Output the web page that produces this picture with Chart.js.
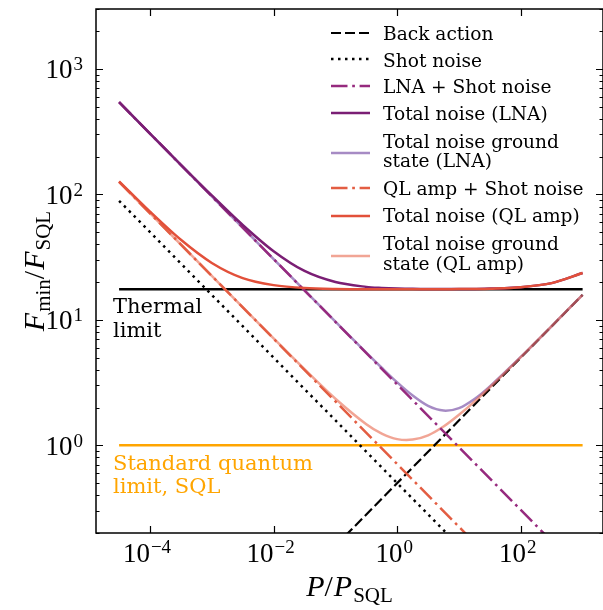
<!DOCTYPE html>
<html>
<head>
<meta charset="utf-8">
<script src="https://cdn.jsdelivr.net/npm/chart.js@4.4.1/dist/chart.umd.min.js"></script>
<style>
  html, body { margin: 0; padding: 0; background: #fff; }
  #wrap { width: 603px; height: 610px; }
</style>
</head>
<body>
<div id="wrap"><canvas id="noiseChart" width="603" height="610"></canvas></div>
<script>
// P / P_SQL grid shared by the curved series
const powerRatio = [3.16e-5, 1e-4, 3.16e-4, 1e-3, 3.16e-3, 0.01, 0.0316, 0.1, 0.316, 0.562, 1, 1.78, 3.16, 5.62, 10, 17.8, 31.6, 100, 316, 1000];
const totalNoiseLNA = [543, 305, 172, 98.0, 57.0, 35.2, 24.5, 20.0, 18.3, 17.96, 17.76, 17.65, 17.60, 17.58, 17.59, 17.63, 17.73, 18.2, 19.6, 23.6];
const groundStateLNA = [542, 305, 171.5, 96.4, 54.2, 30.5, 17.2, 9.67, 5.48, 4.15, 3.17, 2.49, 2.06, 1.89, 1.98, 2.34, 2.95, 5.06, 8.92, 15.8];
const totalNoiseQL = [127, 72.8, 43.4, 28.4, 21.5, 18.9, 17.9, 17.6, 17.54, 17.52, 17.51, 17.51, 17.52, 17.54, 17.57, 17.62, 17.72, 18.2, 19.6, 23.6];
const groundStateQL = [125.7, 70.7, 39.8, 22.4, 12.6, 7.11, 4.04, 2.35, 1.47, 1.24, 1.12, 1.11, 1.20, 1.41, 1.75, 2.23, 2.90, 5.05, 8.92, 15.8];

// straight (power law) lines, end points only
const backActionP = [0.1, 1000];
const backActionF = [0.158, 15.8];
const shotNoiseP = [3.16e-5, 10];
const shotNoiseF = [88.9, 0.158];
const lnaShotP = [3.16e-5, 1000];
const lnaShotF = [542, 0.0965];
const qlShotP = [3.16e-5, 1000];
const qlShotF = [125.7, 0.0224];
const limitP = [3.16e-5, 1000];
const thermalLimit = [17.5, 17.5];
const quantumLimit = [1, 1];

// axis ticks
const xTickValues = [1e-4, 1e-2, 1, 1e2];
const xTickExponents = ['\u22124', '\u22122', '0', '2'];
const yTickValues = [1, 10, 100, 1000];
const yTickExponents = ['0', '1', '2', '3'];

const legendLabels = [
  ['Back action'],
  ['Shot noise'],
  ['LNA + Shot noise'],
  ['Total noise (LNA)'],
  ['Total noise ground', 'state (LNA)'],
  ['QL amp + Shot noise'],
  ['Total noise (QL amp)'],
  ['Total noise ground', 'state (QL amp)']
];

function pairs(xs, ys) {
  return xs.map((x, i) => ({ x: x, y: ys[i] }));
}

const SERIF = '"Liberation Serif", "Times New Roman", serif';
const TEXT_SERIF = '"DejaVu Serif", serif';

function drawRich(ctx, parts, x, y, align) {
  let w = 0;
  parts.forEach(p => { ctx.font = p.font; p.w = ctx.measureText(p.text).width; w += p.w + (p.gap || 0); });
  let cx = align === 'center' ? x - w / 2 : (align === 'right' ? x - w : x);
  parts.forEach(p => {
    ctx.font = p.font;
    ctx.fillText(p.text, cx, y + (p.dy || 0));
    cx += p.w + (p.gap || 0);
  });
}

const decorations = {
  id: 'decorations',
  afterDatasetsDraw(chart) {
    const ctx = chart.ctx;
    // legend (no frame)
    const sampleY = [33, 59, 86, 113, 153, 188, 216, 256];
    const baselines = [[40], [66.5], [93], [119.5], [147.5, 167], [195], [222], [250, 269.5]];
    ctx.save();
    chart.data.datasets.slice(0, 8).forEach((ds, i) => {
      ctx.strokeStyle = ds.borderColor;
      ctx.lineWidth = ds.borderWidth;
      ctx.setLineDash(ds.borderDash || []);
      ctx.beginPath();
      ctx.moveTo(331, sampleY[i]);
      ctx.lineTo(370, sampleY[i]);
      ctx.stroke();
    });
    ctx.setLineDash([]);
    ctx.fillStyle = '#000';
    ctx.font = '18.6px ' + TEXT_SERIF;
    ctx.textAlign = 'left';
    ctx.textBaseline = 'alphabetic';
    legendLabels.forEach((lines, i) => {
      lines.forEach((t, j) => ctx.fillText(t, 383, baselines[i][j]));
    });
    ctx.restore();
  },
  afterDraw(chart) {
    const ctx = chart.ctx;
    const a = chart.chartArea;
    const xs = chart.scales.x;
    const ys = chart.scales.y;
    ctx.save();
    // frame
    ctx.strokeStyle = '#000';
    ctx.lineWidth = 1.5;
    ctx.strokeRect(a.left, a.top, a.right - a.left, a.bottom - a.top);
    // inward ticks
    ctx.lineWidth = 1.2;
    ctx.beginPath();
    xTickValues.forEach(v => {
      const px = Math.round(xs.getPixelForValue(v)) + 0.5;
      ctx.moveTo(px, a.bottom); ctx.lineTo(px, a.bottom - 7);
      ctx.moveTo(px, a.top); ctx.lineTo(px, a.top + 7);
    });
    for (let d = -1; d <= 3; d++) {
      for (let m = 1; m <= 9; m++) {
        const v = m * Math.pow(10, d);
        if (v < ys.min || v > ys.max) continue;
        const py = Math.round(ys.getPixelForValue(v)) + 0.5;
        const len = m === 1 ? 7 : 3.5;
        ctx.moveTo(a.left, py); ctx.lineTo(a.left + len, py);
        ctx.moveTo(a.right, py); ctx.lineTo(a.right - len, py);
      }
    }
    ctx.stroke();
    // tick labels
    ctx.fillStyle = '#000';
    ctx.textAlign = 'left';
    ctx.textBaseline = 'alphabetic';
    xTickValues.forEach((v, i) => {
      const px = xs.getPixelForValue(v);
      drawRich(ctx, [
        { text: '10', font: '27px ' + SERIF, gap: 1 },
        { text: xTickExponents[i], font: '19px ' + SERIF, dy: -9 }
      ], px - 3, a.bottom + 29, 'center');
    });
    yTickValues.forEach((v, i) => {
      const py = ys.getPixelForValue(v);
      drawRich(ctx, [
        { text: '10', font: '27px ' + SERIF, gap: 1 },
        { text: yTickExponents[i], font: '19px ' + SERIF, dy: -8 }
      ], 83, py + 9.5, 'right');
    });
    // axis titles
    drawRich(ctx, [
      { text: 'P', font: 'italic 30px ' + SERIF },
      { text: '/', font: '30px ' + SERIF, gap: 1 },
      { text: 'P', font: 'italic 30px ' + SERIF, gap: 1 },
      { text: 'SQL', font: '21px ' + SERIF, dy: 6 }
    ], (a.left + a.right) / 2, 596, 'center');
    ctx.save();
    ctx.translate(44, (a.top + a.bottom) / 2);
    ctx.rotate(-Math.PI / 2);
    drawRich(ctx, [
      { text: 'F', font: 'italic 30px ' + SERIF, gap: 1 },
      { text: 'min', font: '21px ' + SERIF, dy: 6 },
      { text: '/', font: '30px ' + SERIF, gap: 1 },
      { text: 'F', font: 'italic 30px ' + SERIF, gap: 1 },
      { text: 'SQL', font: '21px ' + SERIF, dy: 6 }
    ], 0, 0, 'center');
    ctx.restore();
    // annotations
    ctx.font = '21px ' + TEXT_SERIF;
    ctx.fillStyle = '#000';
    ctx.fillText('Thermal', 113, 313);
    ctx.fillText('limit', 113, 337);
    ctx.fillStyle = '#ffa500';
    ctx.fillText('Standard quantum', 113, 470);
    ctx.fillText('limit, SQL', 113, 493);
    ctx.restore();
  }
};

const lineBase = { pointRadius: 0, fill: false, borderCapStyle: 'butt', tension: 0 };

const chart = new Chart(document.getElementById('noiseChart'), {
  type: 'line',
  data: {
    datasets: [
      Object.assign({}, lineBase, { label: 'Back action', data: pairs(backActionP, backActionF), borderColor: '#000', borderWidth: 2.2, borderDash: [10, 4], order: 7 }),
      Object.assign({}, lineBase, { label: 'Shot noise', data: pairs(shotNoiseP, shotNoiseF), borderColor: '#000', borderWidth: 2.5, borderDash: [2.5, 4.5], order: 8 }),
      Object.assign({}, lineBase, { label: 'LNA + Shot noise', data: pairs(lnaShotP, lnaShotF), borderColor: '#962a7e', borderWidth: 2.5, borderDash: [16.5, 4.7, 2.7, 4.7], order: 4 }),
      Object.assign({}, lineBase, { label: 'Total noise (LNA)', data: pairs(powerRatio, totalNoiseLNA), borderColor: '#7a1e74', borderWidth: 2.5, tension: 0.3, order: 2 }),
      Object.assign({}, lineBase, { label: 'Total noise ground state (LNA)', data: pairs(powerRatio, groundStateLNA), borderColor: 'rgba(107,62,157,0.6)', borderWidth: 2.5, tension: 0.3, order: 6 }),
      Object.assign({}, lineBase, { label: 'QL amp + Shot noise', data: pairs(qlShotP, qlShotF), borderColor: '#e35d42', borderWidth: 2.5, borderDash: [16.5, 4.7, 2.7, 4.7], order: 3 }),
      Object.assign({}, lineBase, { label: 'Total noise (QL amp)', data: pairs(powerRatio, totalNoiseQL), borderColor: '#e2503a', borderWidth: 2.5, tension: 0.3, order: 1 }),
      Object.assign({}, lineBase, { label: 'Total noise ground state (QL amp)', data: pairs(powerRatio, groundStateQL), borderColor: 'rgba(232,105,78,0.6)', borderWidth: 2.5, tension: 0.3, order: 5 }),
      Object.assign({}, lineBase, { label: 'Thermal limit', data: pairs(limitP, thermalLimit), borderColor: '#000', borderWidth: 2.5, order: 9 }),
      Object.assign({}, lineBase, { label: 'Standard quantum limit, SQL', data: pairs(limitP, quantumLimit), borderColor: '#ffa500', borderWidth: 2.5, order: 10 })
    ]
  },
  options: {
    responsive: false,
    animation: false,
    devicePixelRatio: 1,
    layout: { padding: { left: 96, top: 9, right: 0, bottom: 77 } },
    plugins: { legend: { display: false }, tooltip: { enabled: false } },
    scales: {
      x: { type: 'logarithmic', min: Math.pow(10, -4.874), max: Math.pow(10, 3.33), display: false },
      y: { type: 'logarithmic', min: 0.2, max: 3000, display: false }
    }
  },
  plugins: [decorations]
});
</script>
</body>
</html>
